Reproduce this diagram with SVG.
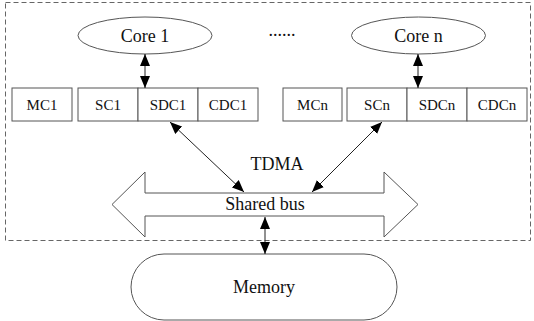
<svg xmlns="http://www.w3.org/2000/svg" width="534" height="321" viewBox="0 0 534 321">
<defs>
<marker id="ah" viewBox="0 0 12 10" refX="12" refY="5" markerWidth="12" markerHeight="10" markerUnits="userSpaceOnUse" orient="auto-start-reverse">
<path d="M0,0 L12,5 L0,10 Z" fill="#000"/>
</marker>
</defs>
<style>
.sh{fill:#fff;stroke:#555;stroke-width:1}
.t{font-family:"Liberation Serif","Times New Roman",serif;fill:#111;text-anchor:middle}
.s{font-size:15px}
.b{font-size:18px}
.c{stroke:#222;stroke-width:1;fill:none;marker-start:url(#ah);marker-end:url(#ah)}
</style>
<rect x="5.5" y="2.5" width="525" height="238" fill="none" stroke="#666" stroke-dasharray="5,3"/>
<g id="core1"><ellipse class="sh" cx="145" cy="35.5" rx="67" ry="18.5"/><text class="t b" x="145" y="42">Core 1</text></g>
<g id="coren"><ellipse class="sh" cx="418.5" cy="35.5" rx="67" ry="18.5"/><text class="t b" x="418.5" y="42">Core n</text></g>
<g id="dots"><text class="t b" x="282" y="36">......</text></g>
<g id="mc1"><rect class="sh" x="12" y="88" width="60" height="33"/><text class="t s" x="42" y="110">MC1</text></g>
<g id="sc1"><rect class="sh" x="78" y="88" width="60" height="33"/><text class="t s" x="108" y="110">SC1</text></g>
<g id="sdc1"><rect class="sh" x="138" y="88" width="60" height="33"/><text class="t s" x="168" y="110">SDC1</text></g>
<g id="cdc1"><rect class="sh" x="198" y="88" width="60" height="33"/><text class="t s" x="228" y="110">CDC1</text></g>
<g id="mcn"><rect class="sh" x="283" y="88" width="59" height="33"/><text class="t s" x="312.5" y="110">MCn</text></g>
<g id="scn"><rect class="sh" x="347" y="88" width="60" height="33"/><text class="t s" x="377" y="110">SCn</text></g>
<g id="sdcn"><rect class="sh" x="407" y="88" width="60" height="33"/><text class="t s" x="437" y="110">SDCn</text></g>
<g id="cdcn"><rect class="sh" x="467" y="88" width="60" height="33"/><text class="t s" x="497" y="110">CDCn</text></g>
<g id="tdma"><text class="t b" x="277" y="170">TDMA</text></g>
<g id="bus"><path class="sh" d="M112,204.5 L145,172 L145,193 L384,193 L384,172 L418,204.5 L384,237 L384,216 L145,216 L145,237 Z"/><text class="t b" x="265" y="210">Shared bus</text></g>
<g id="memory"><rect class="sh" x="131" y="254" width="266" height="66" rx="33" ry="33"/><text class="t b" x="264" y="293">Memory</text></g>
<g id="connectors">
<line class="c" x1="145" y1="54" x2="145" y2="88"/>
<line class="c" x1="418" y1="54" x2="418" y2="88"/>
<line class="c" x1="170" y1="122" x2="244" y2="192"/>
<line class="c" x1="382" y1="122" x2="312" y2="192"/>
<line class="c" x1="265" y1="217" x2="265" y2="254"/>
</g>
</svg>
